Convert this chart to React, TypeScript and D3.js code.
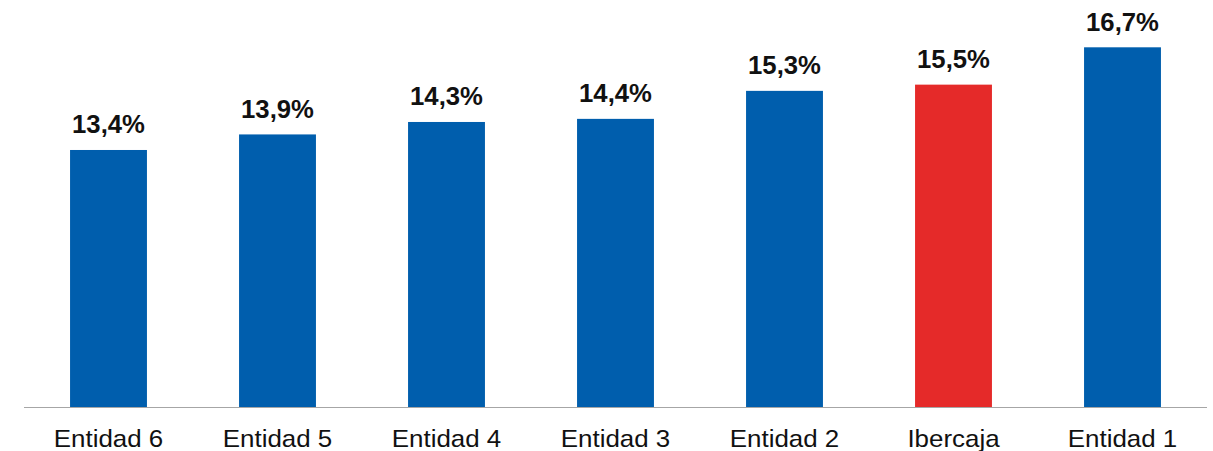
import React from "react";
import * as d3 from "d3";

const categories = ["Entidad 6", "Entidad 5", "Entidad 4", "Entidad 3", "Entidad 2", "Ibercaja", "Entidad 1"];
const values = [13.4, 13.9, 14.3, 14.4, 15.3, 15.5, 16.7];
const highlight = "Ibercaja";

const W = 1213;
const H = 451;
const BLUE = "#005EAD";
const RED = "#E52A29";

export default function App() {
  const x = d3.scaleBand<string>().domain(categories).range([24, 1207]).paddingInner(0.545).paddingOuter(0.2725);
  const y = d3.scaleLinear().domain([5.14, 16.7]).range([407, 47.3]);
  const fmt = (v: number) => v.toFixed(1).replace(".", ",") + "%";
  return (
    <svg width={W} height={H} style={{ position: "absolute", left: 0, top: 0 }}>
      <rect x={0} y={0} width={W} height={H} fill="#fff" />
      {categories.map((c, i) => (
        <rect
          key={c}
          x={x(c)}
          y={y(values[i])}
          width={x.bandwidth()}
          height={y.range()[0] - y(values[i])}
          fill={c === highlight ? RED : BLUE}
        />
      ))}
      <line x1={24} x2={1207} y1={407.5} y2={407.5} stroke="#A6A6A6" strokeWidth={1} />
      {categories.map((c, i) => {
        const cx = (x(c) as number) + x.bandwidth() / 2;
        return (
          <g key={"l" + c}>
            <text
              x={cx}
              y={y(values[i]) - 16.5}
              textAnchor="middle"
              fontFamily="Liberation Sans, Arial, sans-serif"
              fontWeight="bold"
              fontSize={25.7}
              fill="#111"
            >
              {fmt(values[i])}
            </text>
            <text
              transform={`translate(${cx},447) scale(1.08,1)`}
              textAnchor="middle"
              fontFamily="Liberation Sans, Arial, sans-serif"
              fontSize={24}
              fill="#111"
            >
              {c}
            </text>
          </g>
        );
      })}
    </svg>
  );
}
